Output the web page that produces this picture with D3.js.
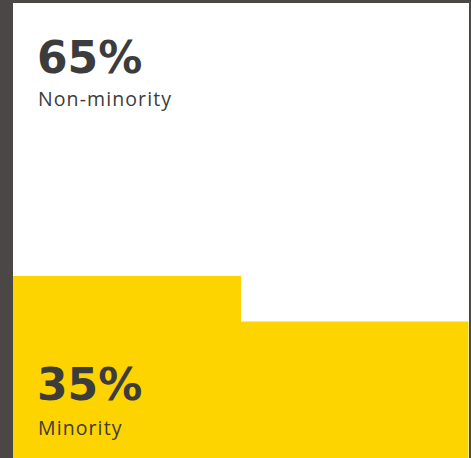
<!DOCTYPE html>
<meta charset="utf-8">
<head>
<title>Minority share</title>
<script src="https://d3js.org/d3.v7.min.js"></script>
<style>
  body { margin: 0; background: #4a4745; }
  .big { font-family: "DejaVu Sans", sans-serif; font-weight: 700; fill: #3c3c3c; }
  .small { font-family: "Open Sans", sans-serif; font-weight: 400; fill: #3c3c3c; }
</style>
</head>
<body>
<script>

// data
var groups = ["Group A", "Group B"];
var minorityShare = [40, 30];          // % height of the yellow bars
var totals = [65, 35];                 // headline percentages
var totalLabels = ["Non-minority", "Minority"];

var W = 471, H = 458;
var panel = {left: 13, right: 468, top: 3, bottom: 458};

var svg = d3.select("body").append("svg")
    .attr("width", W)
    .attr("height", H);

// dark background
svg.append("rect")
    .attr("width", W).attr("height", H)
    .attr("fill", "#4a4745");

// white panel
svg.append("rect")
    .attr("x", panel.left).attr("y", panel.top)
    .attr("width", panel.right + 1 - panel.left)
    .attr("height", panel.bottom - panel.top)
    .attr("fill", "#ffffff");

var x = d3.scaleBand()
    .domain(groups)
    .range([panel.left, panel.right])
    .padding(0);

var y = d3.scaleLinear()
    .domain([0, 100])
    .range([panel.bottom, panel.top]);

svg.selectAll(".bar")
    .data(minorityShare)
  .enter().append("rect")
    .attr("class", "bar")
    .attr("x", function(d, i) { return x(groups[i]); })
    .attr("width", x.bandwidth() + 0.5)
    .attr("y", function(d) { return y(d); })
    .attr("height", function(d) { return y(0) - y(d); })
    .attr("fill", "#fdd300");

// headline numbers
var textPos = [{big: 72.5, small: 106}, {big: 400, small: 435}];

svg.selectAll(".big")
    .data(totals)
  .enter().append("text")
    .attr("class", "big")
    .attr("x", 37)
    .attr("y", function(d, i) { return textPos[i].big; })
    .style("font-size", "44px")
    .text(function(d) { return d + "%"; });

svg.selectAll(".small")
    .data(totalLabels)
  .enter().append("text")
    .attr("class", "small")
    .attr("x", 38)
    .attr("y", function(d, i) { return textPos[i].small; })
    .style("font-size", "19.5px")
    .style("letter-spacing", "1.1px")
    .text(function(d) { return d; });

</script>
</body>
